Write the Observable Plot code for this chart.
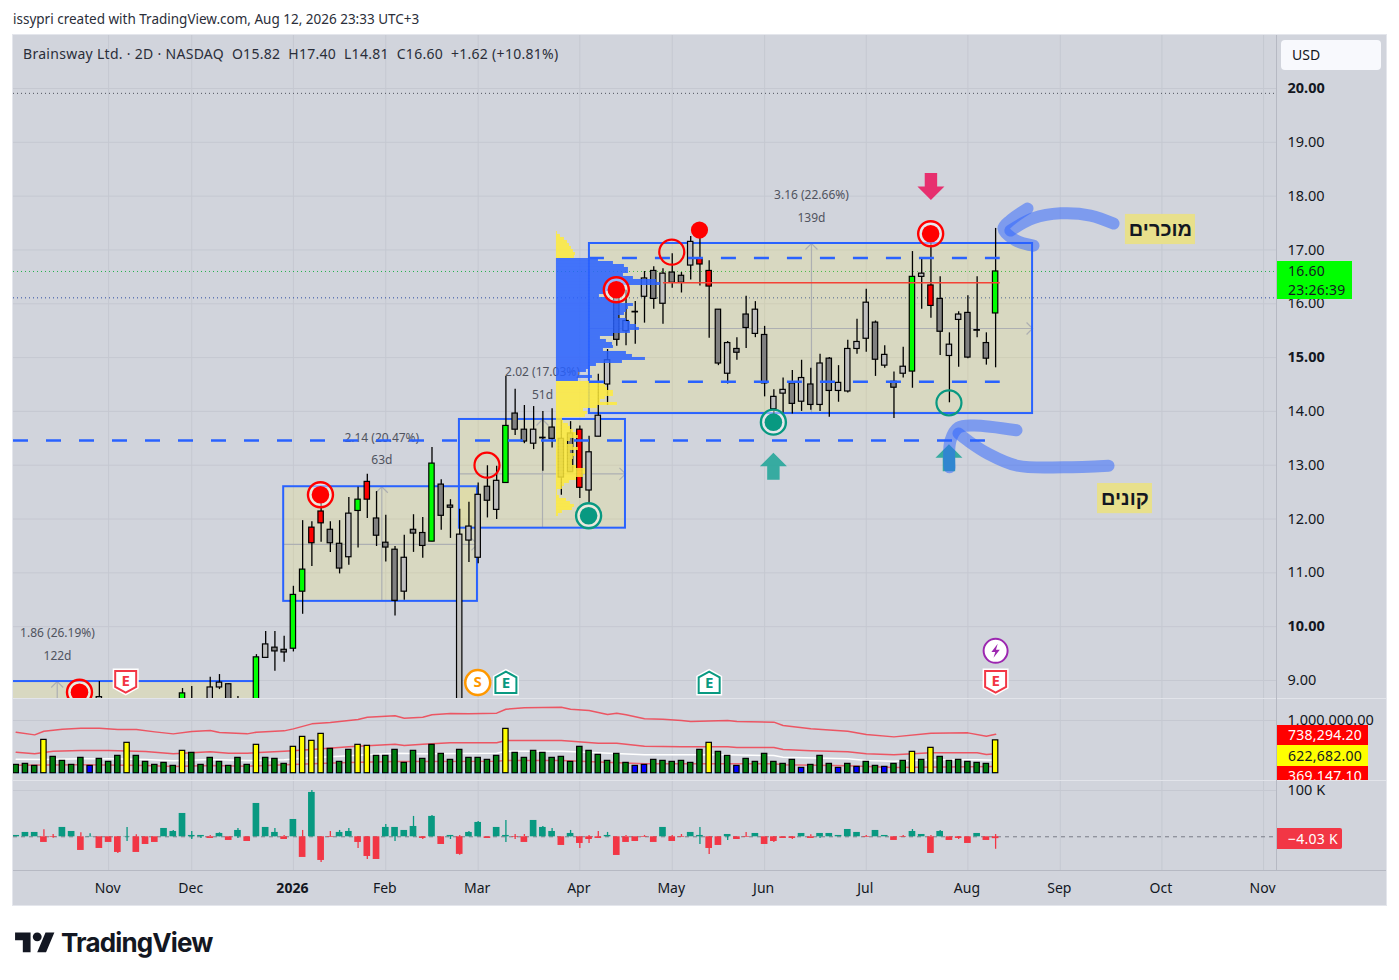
<!DOCTYPE html>
<html>
<head>
<meta charset="utf-8">
<script src="https://cdn.jsdelivr.net/npm/d3@7"></script>
<script src="https://cdn.jsdelivr.net/npm/@observablehq/plot@0.6"></script>
<style>
html,body{margin:0;padding:0;background:#fff;width:1399px;height:980px;overflow:hidden}
body{font-family:"Noto Sans",sans-serif;color:#131722;position:relative}
.abs{position:absolute;white-space:nowrap}
#frame{left:13px;top:35px;width:1373px;height:870px;background:#d1d4dc;box-shadow:0 0 0 1px #e4e6ec}
.sep{position:absolute;background:#e2e4ea}
.val{position:absolute;left:1277px;font-size:14px;line-height:20px;padding-left:11px;box-sizing:border-box;letter-spacing:.25px;white-space:nowrap}
svg{position:absolute;left:13px;overflow:visible}
</style>
</head>
<body>
<div class="abs" style="left:13px;top:10px;font-size:13.5px;color:#2a2e39">issypri created with TradingView.com, Aug 12, 2026 23:33 UTC+3</div>
<div class="abs" id="frame"></div>
<div id="plots"></div>
<div class="sep" style="left:13px;top:698px;width:1373px;height:1px"></div>
<div class="sep" style="left:13px;top:780px;width:1373px;height:1px"></div>
<div class="sep" style="left:1276px;top:35px;width:1px;height:835px;background:#b6b9c3"></div>
<div class="sep" style="left:13px;top:870px;width:1373px;height:1px;background:#b6b9c3"></div>
<div class="abs" style="left:23px;top:44px;font-size:14px;color:#2a2e39;letter-spacing:.29px">Brainsway Ltd. · 2D · NASDAQ &nbsp;O15.82 &nbsp;H17.40 &nbsp;L14.81 &nbsp;C16.60 &nbsp;+1.62 (+10.81%)</div>
<div class="abs" style="left:1281px;top:40px;width:100px;height:30px;background:#f8f9fd;border-radius:4px;font-size:14px;line-height:30px;text-indent:11px">USD</div>
<div class="val" style="top:261px;width:75px;height:38px;background:#00ff00;line-height:19px">16.60<br>23:26:39</div>
<div class="abs" style="left:1277px;top:698px;width:109px;height:82px;overflow:hidden">
  <div class="val" style="left:0;top:27px;width:91px;height:20px;background:#ff0000;color:#fff">738,294.20</div>
  <div class="val" style="left:0;top:47px;width:91px;height:21px;background:#ffff00;line-height:21px">622,682.00</div>
  <div class="val" style="left:0;top:68px;width:91px;height:20px;background:#ff0000;color:#fff">369,147.10</div>
</div>
<div class="val" style="top:828px;width:65px;height:21px;background:#f23645;color:#fff;line-height:21px;border-radius:0 2px 2px 0">−4.03 K</div>
<svg style="position:absolute;left:15px;top:928px;width:40px;height:31px;overflow:visible" viewBox="0 0 36 28"><path fill="#131722" d="M14 22H7V11H0V4h14v18zM28 22h-8l7.5-18h8L28 22z"/><circle fill="#131722" cx="20" cy="8" r="4"/></svg>
<div class="abs" style="left:61px;top:927px;font:700 26px Inter,sans-serif;letter-spacing:-.85px;color:#131722">TradingView</div>
<script>
// candles (index of the bar on the 2-day axis; bars with hidden bodies sit under the pane edge)
const barIndex=[9,18,19,21,22,23,24,26,27,28,29,30,31,32,33,34,35,36,37,38,39,40,41,42,43,44,45,46,47,48,49,50,51,52,53,54,55,56,57,58,59,60,61,62,63,64,65,66,67,68,69,70,71,72,73,74,75,76,77,78,79,80,81,82,83,84,85,86,87,88,89,90,91,92,93,94,95,96,97,98,99,100,101,102,103,104,105,106];
const opens=[8.3,8.4,8.5,8.5,8.87,8.93,8.6,8.5,9.42,9.61,9.57,9.59,10.65,11.84,12.14,11.8,11.54,11.29,12.15,12.69,12.01,11.56,11.43,10.65,11.8,11.74,11.58,12.64,12.25,8.3,11.6,11.28,12.6,12.17,12.67,13.96,13.66,13.4,13.51,13.7,13.49,13.59,13.66,12.53,13.53,14.5,16.14,15.49,15.85,16.13,16.61,16,16.58,16.52,16.71,16.84,16.61,15.89,14.7,15.16,15.8,15.44,15.42,14.04,14.33,14.52,14.18,14.5,14.12,14.98,14.38,14.37,15.16,15.35,15.65,14.85,14.55,14.7,14.74,16.5,16.34,16.09,15.03,15.7,15.83,15.51,15.27,15.82];
const highs=[8.98,8.85,8.89,9.06,9.11,8.94,8.7,9.48,9.91,9.91,9.82,10.75,11.97,11.95,12.46,11.95,11.97,12.4,12.59,12.83,12.51,12.07,11.49,11.7,12.08,12.03,13.33,12.73,12.36,12.18,12.31,12.67,12.99,12.98,14.65,14.41,14.11,14.09,14,14.05,13.83,13.81,13.73,13.54,14.69,15.15,16.34,16.25,16.04,16.6,16.69,16.65,16.93,16.58,17.25,17.36,16.8,15.89,15.3,15.37,16.14,16.04,15.58,14.4,14.62,14.76,14.95,14.8,15.06,15,14.85,15.32,15.71,16.27,15.68,15.22,14.73,15.19,16.97,16.84,17.12,16.5,15.46,15.85,16.15,16.5,15.46,17.4];
const lows=[8.2,8.3,8.3,8.4,8.83,8.3,8.3,8.4,9.42,9.17,9.34,9.53,10.23,11.12,11.57,11.38,10.98,11.14,11.46,12.01,11.49,11.2,10.2,10.49,11.38,11.27,11.58,11.79,11.64,8.2,11.19,11.17,12.02,11.99,12.67,13.55,13.4,13.29,12.89,13.32,12.44,12.87,12.38,12.27,13.53,14.11,15.21,15.22,15.25,15.64,15.9,15.62,16.29,16.2,16.44,16.33,15.36,14.85,14.51,14.95,15.17,15.37,14.27,13.92,13.97,13.95,14,14.02,14,13.89,14.17,14.34,15.06,15.1,14.65,14.8,13.87,14.62,14.43,15.9,15.73,15.04,14.16,14.82,14.98,15.37,14.86,14.81];
const closes=[8.69,8.76,8.6,8.87,8.96,8.4,8.4,9.43,9.67,9.54,9.52,10.59,11.06,11.55,11.92,11.55,11.08,12.1,12.36,12.36,11.69,11.47,10.48,11.28,11.73,11.5,13.03,12.06,12.21,11.71,11.86,12.45,12.34,12.71,13.73,13.66,13.44,13.66,13.5,13.49,12.77,12.87,12.58,13.24,13.92,14.95,15.33,15.68,15.84,16.47,16.09,16.56,16.39,16.39,17.15,16.73,16.32,14.89,15.27,15.09,15.55,15.89,14.52,14.27,14.4,14.14,14.62,14.12,14.89,14.38,14.53,15.16,15.29,16.02,14.96,15.05,14.44,14.83,16.5,16.56,15.96,15.48,15.24,15.8,15,15.5,14.98,16.6];
const greenBars=[18,26,30,31,37,45,53,97,106];
const redBars=[32,33,38,61,74,75,99];

// volume pane, thousands of shares
const volume=[158,177,139,632,310,234,158,291,139,272,215,329,576,329,215,158,196,139,424,386,158,291,215,139,291,158,538,291,272,177,500,689,614,746,462,215,443,538,519,329,329,443,196,424,272,538,367,253,443,291,291,253,329,841,386,291,424,386,291,310,215,500,424,348,234,367,196,139,158,253,234,215,234,196,443,576,405,329,139,272,215,367,215,177,253,101,158,329,177,101,177,120,215,139,120,177,234,405,253,481,310,234,253,215,196,177,623];
const volumeYellow=[3,12,18,26,30,31,32,33,37,38,53,75,97,99,106];
const volumeBlue=[8,67,68,78,85,89,91,94];
const upperBandBars=[0,2,3,5,7,9,11,13,15,17,19,21,22,25,26,29,30,32,34,36,37,38,41,42,44,45,47,49,52,53,55,59,60,62,64,65,66,68,70,72,73,77,78,82,83,86,90,92,95,99,103,105,106];
const upperBand=[778,727,797,835,854,854,829,829,784,746,791,810,772,746,778,803,841,936,961,999,1018,1063,1088,1044,1063,1107,1132,1126,1139,1214,1240,1252,1214,1189,1113,1139,1107,1031,1025,999,980,999,980,968,904,841,797,734,689,759,765,702,738];
const midBandBars=[0,2,4,7,10,14,17,21,23,25,29,32,36,41,42,44,47,52,53,59,63,65,68,72,77,78,82,83,86,90,92,95,99,104,105,106];
const midBand=[398,367,417,430,430,411,367,405,379,379,417,449,500,550,525,550,576,576,620,620,569,569,512,500,500,487,487,449,424,405,367,348,386,386,354,369];
const whiteLineBars=[0,3,7,10,14,17,21,25,29,32,36,41,44,52,53,59,63,68,72,77,82,83,90,92,95,99,104,106];
const whiteLine=[266,259,272,272,259,234,259,240,253,291,329,379,367,379,417,417,386,348,348,348,335,304,272,240,228,253,253,247];
const lowerBandBars=[0,7,14,17,21,25,32,36,41,52,53,59,68,72,82,83,90,95,106];
const lowerBand=[152,158,145,126,145,133,177,202,221,228,240,240,177,177,177,158,139,108,126];

// delta pane, thousands
const deltaClose=[2.9,9.4,9.4,-12.2,-1.4,20.2,11.5,-29.5,.7,-25.2,-12.2,-33.8,.7,-33.8,-16.6,-12.2,18,11.5,50.4,2.9,2.9,-3.6,7.2,-7.9,13.7,-10.1,72,20.2,9.4,-5.8,37.4,-44.6,95.8,-51.1,-1.4,9.4,11.5,-12.2,-42.5,-49,20.2,20.2,13.7,22.3,-3.6,44,-16.6,2.9,-38,9.4,31,-3.6,20.2,2.9,-1.4,-12.2,35.3,20.2,11.5,-18.7,7.2,-14.4,-5.8,-3.6,2.9,-40.3,-12.2,-10.1,-1.4,-12.2,20.2,-10.1,-1.4,9.4,2.9,-25.2,-18.7,5,-5.8,-1.4,7.2,-16.6,-10.1,-3.6,-3.6,7.2,-3.6,7.2,7.2,2.9,15.8,9.4,-1.4,13.7,2.9,-7.9,-1.4,11.5,5,-36,11.5,-7.9,-3.6,-14.4,7.2,-7.9,-4.03];
const deltaWickBars=[3,4,7,8,11,12,13,17,19,20,21,22,24,28,29,31,32,33,34,35,36,37,38,40,41,43,44,45,47,48,49,50,53,54,55,57,58,60,61,62,63,64,66,68,71,72,74,75,77,79,82,84,86,87,92,96,97,99,100,102,106];
const deltaWickHigh=[15,5,8.6,6.5,0,20.2,4.3,13.7,11.5,2.9,2.9,8.6,18,18,2.9,13.7,100,0,11.5,13.7,18,0,0,26.6,20.2,44,0,46,2.9,2.9,11.5,33,35,5,5,22.3,18,13.7,0,2.9,11.5,9.4,2.9,2.9,2.9,5,20,0,5,9.4,0,0,4.3,7.2,2.9,2.9,15.8,2.9,13.7,0,5];
const deltaWickLow=[0,-2.9,0,0,-36,-10,0,0,-5.8,-3.6,0,0,-3.6,0,0,0,0,-55.4,0,0,0,-25.2,-49,0,-10,0,-5.8,0,-5.8,-40,0,0,-12.2,-5.8,0,0,0,0,-25.2,-14.4,0,0,0,0,0,0,-16.6,-38,-8,0,-12.2,-5.8,0,-3.6,0,0,0,0,0,-5.8,-27];

// volume profile rows
const profileUpper=[1,4,8,11,13,15,17,19,18];
const profileValueArea=[42,57,68,72,72,67,77,100,104,62,55,50,43,52,60,77,72,70,68,62,70,74,80,83,74,57,44,50,56,57,47,70,76,89,66,40,34,30,22,36,22];
const profileLower=[44,49,51,57,57,49,44,61,41,27,31,29,6,7,12,14,17,20,22,14,11,17,22,14,19,17,16,16,20,29,29,27,20,13,8,6,1,1,3,10,14,18,16,6,2];

// measured ranges on the chart
const rangeLeft=[-5,28.95,47.97,62.04];
const rangeRight=[25.9,49.92,65.94,110];
const rangeTop=[8.98,12.6,13.85,17.12];
const rangeBottom=[7,10.47,11.83,13.96];
const rangeMidBar=[4.44,39.57,56.96,86.07];
const rangeMidPrice=[8.2,11.53,12.84,15.54];
const rangeChange=["1.86 (26.19%)","2.14 (20.47%)","2.02 (17.03%)","3.16 (22.66%)"];
const rangeSpan=["122d","63d","51d","139d"];
const rangeChangeBar=[4.47,39.57,56.96,86.07];
const rangeChangePrice=[9.87,13.5,14.72,18.01];
const rangeSpanPrice=[9.46,13.09,14.31,17.6];

const ringRedBars=[6.85,32.93,64.95,98.97], ringRedPrices=[8.78,12.45,16.26,17.3];
const ringGreenBars=[61.95,81.95], ringGreenPrices=[12.06,13.8];
const hollowRedBars=[50.95,70.95], hollowRedPrices=[13,16.96];
const brushes=[
 {bars:[118.76,116.27,113.02,110.1,107.6],prices:[17.49,17.64,17.68,17.59,17.36]},
 {bars:[109.45,107.6,106.85,108.15,110.1],prices:[17.77,17.55,17.4,17.18,17.08]},
 {bars:[118.22,113.34,108.37,105.12,102.96,101.98],prices:[12.99,12.96,12.99,13.22,13.46,13.59]},
 {bars:[108.26,103.6,101.98,101.12,101.01],prices:[13.65,13.74,13.7,13.46,12.96]}
];
const timeBars=[10,19,30,40,50,61,71,81,92,103,113,124,135];
const timeLabels=["Nov","Dec","2026","Feb","Mar","Apr","May","Jun","Jul","Aug","Sep","Oct","Nov"];
const priceTicks=[9,11,12,13,14,16,17,18,19];
const majorPriceTicks=[10,15,20];

const X={domain:[-0.292,136.4],axis:null};
const W=1373, MR=110;
const GRID="#c5c8d1";
const MEASURE="#adafb2";
const FONT='"Noto Sans",sans-serif';
const C={clip:true};
const base=(h,y)=>({width:W,height:h,marginLeft:0,marginRight:MR,marginTop:0,marginBottom:0,x:X,y,
  style:{background:"transparent",fontFamily:FONT,color:"#131722",overflow:"visible"}});

// custom glyphs
const chevUp={draw(c,s){const r=Math.sqrt(s/Math.PI);c.moveTo(-r,r);c.lineTo(0,0);c.lineTo(r,r);}};
const chevRight={draw(c,s){const r=Math.sqrt(s/Math.PI);c.moveTo(-r,-r);c.lineTo(0,0);c.lineTo(-r,r);}};
const arrowUp={draw(c,s){const r=Math.sqrt(s/Math.PI);c.moveTo(0,-r);c.lineTo(r,0);c.lineTo(.46*r,0);c.lineTo(.46*r,r);c.lineTo(-.46*r,r);c.lineTo(-.46*r,0);c.lineTo(-r,0);c.closePath();}};
const arrowDown={draw(c,s){const r=Math.sqrt(s/Math.PI);c.moveTo(0,r);c.lineTo(r,0);c.lineTo(.46*r,0);c.lineTo(.46*r,-r);c.lineTo(-.46*r,-r);c.lineTo(-.46*r,0);c.lineTo(-r,0);c.closePath();}};
const badgeDown={draw(c,s){const r=Math.sqrt(s/Math.PI);c.moveTo(-r,-r);c.lineTo(r,-r);c.lineTo(r,.5*r);c.lineTo(0,r*1.05);c.lineTo(-r,.5*r);c.closePath();}};
const badgeUp={draw(c,s){const r=Math.sqrt(s/Math.PI);c.moveTo(-r,r);c.lineTo(r,r);c.lineTo(r,-.5*r);c.lineTo(0,-r*1.05);c.lineTo(-r,-.5*r);c.closePath();}};
const bolt={draw(c,s){const r=Math.sqrt(s/Math.PI);c.moveTo(.3*r,-r);c.lineTo(-.6*r,.15*r);c.lineTo(-.05*r,.15*r);c.lineTo(-.3*r,r);c.lineTo(.6*r,-.15*r);c.lineTo(.05*r,-.15*r);c.closePath();}};

const candles=barIndex.map((i,k)=>({i,o:opens[k],h:highs[k],l:lows[k],c:closes[k],
  fill:greenBars.includes(i)?"#00ff00":redBars.includes(i)?"#ff0000":closes[k]>=opens[k]?"#c0c0c0":"#808080"}));
const ranges=rangeLeft.map((l,k)=>({l,r:rangeRight[k],t:rangeTop[k],b:rangeBottom[k],mx:rangeMidBar[k],my:rangeMidPrice[k]}));
const BIN=3/53.82, PBASE=58.47, PPX=1/9.24, PTOP=17.343;
const profile=[...profileUpper.map(v=>[v,"#ffeb3b"]),...profileValueArea.map(v=>[v,"#2962ff"]),...profileLower.map(v=>[v,"#ffeb3b"])]
  .map(([v,fill],k)=>({x2:PBASE+v*PPX,y1:PTOP-k*BIN,y2:PTOP-(k+1)*BIN,fill}));
const zip=(xs,ys)=>xs.map((x,k)=>({x,y:ys[k]}));
const textMark=(xs,ys,labels,opt)=>Plot.text(xs.map((x,k)=>({x,y:ys[k],t:labels[k]})),{x:"x",y:"y",text:"t",...opt});

const main=Plot.plot({...base(663,{domain:[8.665,20.985]}),marks:[
  Plot.gridX({ticks:timeBars,stroke:GRID,strokeOpacity:1}),
  Plot.gridY({ticks:[...priceTicks,...majorPriceTicks],stroke:GRID,strokeOpacity:1}),
  Plot.axisY({ticks:priceTicks,anchor:"right",tickSize:0,tickPadding:11,tickFormat:d3.format(".2f"),fontSize:14.5,label:null}),
  Plot.axisY({ticks:majorPriceTicks,anchor:"right",tickSize:0,tickPadding:11,tickFormat:d3.format(".2f"),fontSize:14.5,fontWeight:700,label:null}),
  Plot.ruleY([19.91],{stroke:"#50535e",strokeDasharray:"1 3",strokeWidth:1}),
  Plot.ruleY([16.6],{stroke:"#22b14c",strokeDasharray:"1 3",strokeWidth:1}),
  Plot.ruleY([16.11],{stroke:"#2b4a9f",strokeDasharray:"1 3",strokeWidth:1}),
  Plot.rect(ranges,{x1:"l",x2:"r",y1:"b",y2:"t",fill:"#ffeb3b",fillOpacity:.17,...C}),
  Plot.ruleY(ranges,{y:"my",x1:"l",x2:"r",stroke:MEASURE,strokeWidth:1.2,...C}),
  Plot.ruleX(ranges,{x:"mx",y1:"b",y2:"t",stroke:MEASURE,strokeWidth:1.2,...C}),
  Plot.dot(ranges,{x:"mx",y:"t",symbol:chevUp,r:6,fill:"none",stroke:MEASURE,strokeWidth:1.2,...C}),
  Plot.dot(ranges,{x:"r",y:"my",symbol:chevRight,r:6,fill:"none",stroke:MEASURE,strokeWidth:1.2,...C}),
  Plot.rect(ranges,{x1:"l",x2:"r",y1:"b",y2:"t",fill:"none",stroke:"#2962ff",strokeWidth:2,...C}),
  textMark(rangeChangeBar,rangeChangePrice,rangeChange,{fill:"#50535e",fontSize:12}),
  textMark(rangeChangeBar,rangeSpanPrice,rangeSpan,{fill:"#50535e",fontSize:12}),
  Plot.ruleX(candles,{x:"i",y1:"l",y2:"h",stroke:"#000",strokeWidth:1.3,...C}),
  Plot.rect(candles,{x1:d=>d.i-.29,x2:d=>d.i+.29,y1:"o",y2:"c",fill:"fill",stroke:"#000",strokeWidth:1.2,...C}),
  Plot.rect(profile,{x1:()=>PBASE,x2:"x2",y1:"y1",y2:"y2",fill:"fill",fillOpacity:.85,...C}),
  Plot.ruleY([13.46],{x1:-.292,x2:104.9,stroke:"#2962ff",strokeWidth:2.5,strokeDasharray:"15 18"}),
  Plot.ruleY([16.85,14.55],{x1:62.04,x2:106.5,stroke:"#2962ff",strokeWidth:2.5,strokeDasharray:"15 18"}),
  Plot.ruleY([16.39],{x1:70.05,x2:106.5,stroke:"#f44336",strokeWidth:1.6}),
  Plot.dot(zip(ringRedBars,ringRedPrices),{x:"x",y:"y",r:12.5,fill:"#fff",fillOpacity:.45,stroke:"#ff0000",strokeWidth:2.4,...C}),
  Plot.dot(zip(ringRedBars,ringRedPrices),{x:"x",y:"y",r:8.8,fill:"#ff0000",...C}),
  Plot.dot(zip(ringGreenBars,ringGreenPrices),{x:"x",y:"y",r:12.5,fill:"#fff",fillOpacity:.45,stroke:"#089981",strokeWidth:2.4}),
  Plot.dot(zip(ringGreenBars,ringGreenPrices),{x:"x",y:"y",r:8.8,fill:"#089981"}),
  Plot.dot(zip(hollowRedBars,hollowRedPrices),{x:"x",y:"y",r:12.5,fill:"none",stroke:"#ff0000",strokeWidth:2.2}),
  Plot.dot([{x:100.95,y:14.16}],{x:"x",y:"y",r:12.5,fill:"none",stroke:"#089981",strokeWidth:2.2}),
  Plot.dot([{x:73.95,y:17.37}],{x:"x",y:"y",r:8.6,fill:"#ff0000"}),
  Plot.dot([{x:99,y:18.18}],{x:"x",y:"y",symbol:arrowDown,r:13.5,fill:"#e91e63",fillOpacity:.9}),
  Plot.dot([{x:81.95,y:12.98},{x:100.95,y:13.14}],{x:"x",y:"y",symbol:arrowUp,r:13.5,fill:"#26a69a",fillOpacity:.9}),
  ...brushes.map(b=>Plot.line(zip(b.bars,b.prices),{x:"x",y:"y",curve:"catmull-rom",stroke:"#2962ff",strokeOpacity:.5,strokeWidth:12,strokeLinecap:"round",strokeLinejoin:"round"})),
  Plot.rect([{a:120.05,b:127.63,c:17.1,d:17.66},{a:117.03,b:122.98,c:12.1,d:12.66}],{x1:"a",x2:"b",y1:"c",y2:"d",fill:"#e8e08c"}),
  textMark([123.84,120],[17.38,12.38],["מוכרים","קונים"],{fill:"#131722",fontSize:20,fontWeight:700,fontFamily:'"Liberation Sans",sans-serif'}),
  // earnings, split and event badges
  Plot.dot([{x:11.85,y:8.98},{x:106,y:8.98}],{x:"x",y:"y",symbol:badgeDown,r:10.5,fill:"#fff",stroke:"#fff",strokeWidth:5}),
  Plot.dot([{x:11.85,y:8.98},{x:106,y:8.98}],{x:"x",y:"y",symbol:badgeDown,r:10.5,fill:"#fff",stroke:"#f23645",strokeWidth:2}),
  Plot.dot([{x:53,y:8.96},{x:75,y:8.96}],{x:"x",y:"y",symbol:badgeUp,r:10.5,fill:"#fff",stroke:"#fff",strokeWidth:5}),
  Plot.dot([{x:53,y:8.96},{x:75,y:8.96}],{x:"x",y:"y",symbol:badgeUp,r:10.5,fill:"#fff",stroke:"#089981",strokeWidth:2}),
  textMark([11.85,106],[8.98,8.98],["E","E"],{fill:"#f23645",fontSize:15,fontWeight:700}),
  textMark([53,75],[8.95,8.95],["E","E"],{fill:"#089981",fontSize:15,fontWeight:700}),
  Plot.dot([{x:49.95,y:8.96}],{x:"x",y:"y",r:12.5,fill:"#fff",stroke:"#ff9800",strokeWidth:2.5}),
  textMark([49.95],[8.96],["S"],{fill:"#ff9800",fontSize:15,fontWeight:700}),
  Plot.dot([{x:106,y:9.55}],{x:"x",y:"y",r:12,fill:"#fff",stroke:"#9c27b0",strokeWidth:2}),
  Plot.dot([{x:106,y:9.55}],{x:"x",y:"y",symbol:bolt,r:7,fill:"#9c27b0"})
]});
main.style.top="35px";

const vols=volume.map((v,i)=>({i,v,fill:volumeYellow.includes(i)?"#ffff00":volumeBlue.includes(i)?"#0000ff":"#007f0e"}));
const volPane=Plot.plot({...base(82,{domain:[-138.5,1417]}),marks:[
  Plot.gridX({ticks:timeBars,stroke:GRID,strokeOpacity:1}),
  Plot.gridY({ticks:[1000],stroke:GRID,strokeOpacity:1}),
  Plot.axisY({ticks:[1000],anchor:"right",tickSize:0,tickPadding:11,tickFormat:()=>"1,000,000.00",fontSize:14.5,label:null}),
  Plot.line(zip(upperBandBars,upperBand),{x:"x",y:"y",stroke:"#f23645",strokeOpacity:.8,strokeWidth:1.5,...C}),
  Plot.line(zip(midBandBars,midBand),{x:"x",y:"y",stroke:"#f23645",strokeOpacity:.8,strokeWidth:1.5,...C}),
  Plot.line(zip(whiteLineBars,whiteLine),{x:"x",y:"y",stroke:"#ffffff",strokeWidth:1.5,...C}),
  Plot.line(zip(lowerBandBars,lowerBand),{x:"x",y:"y",stroke:"#f23645",strokeOpacity:.7,strokeWidth:1.5,...C}),
  Plot.line([{x:0,y:6},{x:106,y:6}],{x:"x",y:"y",stroke:"#90caf9",strokeWidth:1.2,...C}),
  Plot.rect(vols,{x1:d=>d.i-.29,x2:d=>d.i+.29,y1:0,y2:"v",fill:"fill",stroke:"#000",strokeWidth:1.2,...C})
]});
volPane.style.top="698px";

const deltas=deltaClose.map((c,i)=>({i,c}));
const wicks=deltaWickBars.map((i,k)=>({i,hi:deltaWickHigh[k],lo:deltaWickLow[k],col:deltaClose[i]>=0?"#089981":"#f23645"}));
const deltaPane=Plot.plot({...base(125,{domain:[-72.8,121.6]}),marginBottom:35,marks:[
  Plot.gridX({ticks:timeBars,stroke:GRID,strokeOpacity:1}),
  Plot.gridY({ticks:[100],stroke:GRID,strokeOpacity:1}),
  Plot.axisY({ticks:[100],anchor:"right",tickSize:0,tickPadding:11,tickFormat:()=>"100 K",fontSize:14.5,label:null}),
  Plot.axisX({ticks:timeBars.filter((_,k)=>k!==2),anchor:"bottom",tickSize:0,tickPadding:13,dx:-1,tickFormat:d=>timeLabels[timeBars.indexOf(d)],fontSize:14,label:null}),
  Plot.axisX({ticks:[timeBars[2]],anchor:"bottom",tickSize:0,tickPadding:13,dx:-1,tickFormat:d=>timeLabels[timeBars.indexOf(d)],fontSize:14,fontWeight:700,label:null}),
  Plot.ruleY([0],{stroke:"#787b86",strokeWidth:1,strokeDasharray:"4 4"}),
  Plot.ruleX(wicks,{x:"i",y1:"lo",y2:"hi",stroke:"col",strokeWidth:1.3,...C}),
  Plot.rect(deltas,{x1:d=>d.i-.36,x2:d=>d.i+.36,y1:0,y2:"c",fill:d=>d.c>=0?"#089981":"#f23645",...C})
]});
deltaPane.style.top="780px";

document.getElementById("plots").append(main,volPane,deltaPane);
</script>
</body>
</html>
